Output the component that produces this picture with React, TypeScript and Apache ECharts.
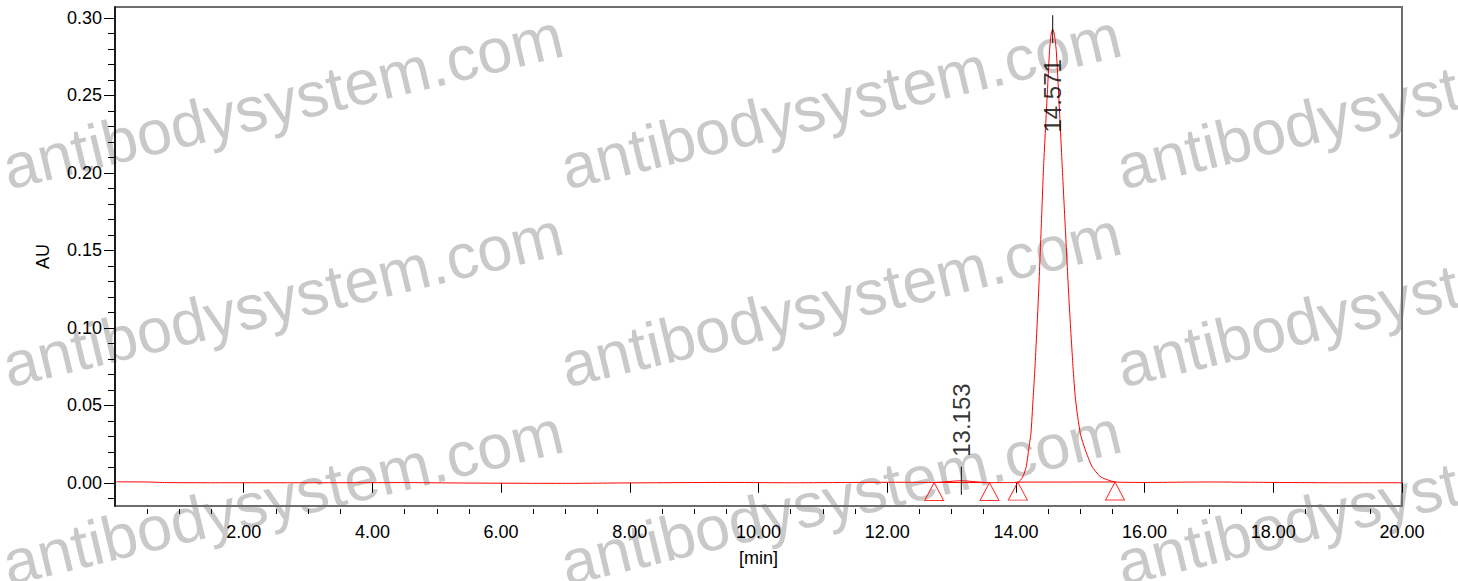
import React, { useEffect, useRef } from 'react';
import * as echarts from 'echarts';

const FONT = '"Liberation Sans", Arial, Helvetica, sans-serif';

// detector trace (time in min, absorbance in AU)
const traceTime = [
  0.02, 0.5, 0.8, 1.5, 3.0, 4.5, 5.5, 7.0, 8.0, 9.5,
  10.5, 11.5, 12.3, 12.73, 12.9, 13.05, 13.153, 13.3, 13.45, 13.6,
  13.9, 14.03, 14.079, 14.12, 14.161, 14.198, 14.234, 14.266, 14.297, 14.348,
  14.39, 14.43, 14.483, 14.523, 14.548, 14.571, 14.597, 14.627, 14.669, 14.72,
  14.772, 14.825, 14.887, 14.927, 15.0, 15.078, 15.182, 15.31, 15.415, 15.54,
  16.0, 17.0, 18.0, 19.0, 20.0,
];
const traceAU = [
  0.0006, 0.0005, 0.0001, 0.0, 0.0, 0.0001, -0.0002, -0.0004, -0.0001, 0.0002,
  0.0, 0.0002, 0.0003, 0.0002, 0.0006, 0.0011, 0.0013, 0.0009, 0.0004, 0.0001,
  0.0001, 0.0004, 0.002, 0.005, 0.0105, 0.0213, 0.032, 0.0535, 0.075, 0.118,
  0.161, 0.204, 0.247, 0.279, 0.2895, 0.2927, 0.2895, 0.279, 0.247, 0.204,
  0.161, 0.118, 0.075, 0.0535, 0.032, 0.0213, 0.0105, 0.004, 0.002, 0.0005,
  0.0002, 0.0005, 0.0002, 0.0, 0.0,
];

// integration start / end marks
const markTime = [12.73, 13.59, 14.03, 15.54];
const markAU = [0.0002, 0.0001, 0.0004, 0.0005];

// peaks with retention time labels
const peakTime = [13.153, 14.571];
const peakAU = [0.0013, 0.2927];

// axis ticks
const xMajorTicks = [2, 4, 6, 8, 10, 12, 14, 16, 18, 20];
const xMinorTicks: number[] = [];
for (let i = 1; i <= 40; i++) if (i % 4 !== 0) xMinorTicks.push(i * 0.5);
const yMajorTicks = [0, 0.05, 0.1, 0.15, 0.2, 0.25, 0.3];
const yMinorTicks: number[] = [];
for (let i = -1; i <= 30; i++) if (i % 5 !== 0) yMinorTicks.push(i / 100);

const WATERMARK = 'antibodysystem.com';
const wmCols = [11, 569, 1125];
const wmRows = [199, 397, 595];

const App: React.FC = () => {
  const chartRef = useRef<HTMLDivElement>(null);

  useEffect(() => {
    if (!chartRef.current) return;
    const chart = echarts.init(chartRef.current, undefined, { renderer: 'svg' });

    const black = '#000';
    const red = '#ff0000';
    const labelStyle = { color: black, fontSize: 18, fontFamily: FONT };

    const option: any = {
      animation: false,
      backgroundColor: '#fff',
      grid: {
        left: 115,
        right: 56,
        top: 7,
        bottom: 75,
        show: true,
        borderColor: '#6e6e6e',
        borderWidth: 2,
        outerBoundsMode: 'none',
      },
      graphic: wmRows.flatMap((y) =>
        wmCols.map((x) => ({
          type: 'text',
          x,
          y,
          rotation: 0.236,
          silent: true,
          z: -1,
          style: {
            text: WATERMARK,
            fill: '#c9c9c9',
            fontSize: 63,
            fontFamily: FONT,
            align: 'left',
            verticalAlign: 'bottom',
          },
        }))
      ),
      xAxis: [
        {
          type: 'value',
          min: 0,
          max: 20,
          position: 'bottom',
          axisLine: { show: false },
          axisTick: { show: false },
          axisLabel: { show: false },
          splitLine: { show: false },
        },
        {
          type: 'value',
          min: 0,
          max: 20,
          position: 'bottom',
          offset: 3,
          axisLine: { show: false },
          axisTick: { show: true, length: 10, customValues: xMajorTicks, lineStyle: { color: black, width: 1 } },
          axisLabel: {
            ...labelStyle,
            customValues: xMajorTicks,
            margin: 14,
            formatter: (v: number) => v.toFixed(2),
          },
          splitLine: { show: false },
          name: '[min]',
          nameLocation: 'middle',
          nameGap: 40,
          nameTextStyle: labelStyle,
        },
        {
          type: 'value',
          min: 0,
          max: 20,
          position: 'bottom',
          offset: 3,
          axisLine: { show: false },
          axisTick: { show: true, length: 5, customValues: xMinorTicks, lineStyle: { color: black, width: 1 } },
          axisLabel: { show: false },
          splitLine: { show: false },
        },
      ],
      yAxis: [
        {
          type: 'value',
          min: -0.015,
          max: 0.307,
          position: 'left',
          axisLine: { show: true, lineStyle: { color: black, width: 1.5 } },
          axisTick: { show: true, length: 11, customValues: yMajorTicks, lineStyle: { color: black, width: 1 } },
          axisLabel: {
            ...labelStyle,
            customValues: yMajorTicks,
            margin: 13,
            formatter: (v: number) => v.toFixed(2),
          },
          splitLine: { show: false },
          name: 'AU',
          nameLocation: 'middle',
          nameRotate: 90,
          nameGap: 63,
          nameMoveOverlap: false,
          nameTextStyle: labelStyle,
        },
        {
          type: 'value',
          min: -0.015,
          max: 0.307,
          position: 'left',
          offset: 0,
          axisLine: { show: false },
          axisTick: { show: true, length: 7, customValues: yMinorTicks, lineStyle: { color: black, width: 1 } },
          axisLabel: { show: false },
          splitLine: { show: false },
        },
      ],
      series: [
        {
          name: 'trace',
          type: 'line',
          xAxisIndex: 0,
          yAxisIndex: 0,
          data: traceTime.map((t, i) => [t, traceAU[i]]),
          showSymbol: false,
          symbol: 'none',
          smooth: 0.2,
          lineStyle: { color: red, width: 1 },
          z: 3,
        },
        {
          name: 'baseline1',
          type: 'line',
          xAxisIndex: 0,
          yAxisIndex: 0,
          data: [
            [markTime[0], markAU[0]],
            [markTime[1], markAU[1]],
          ],
          showSymbol: false,
          symbol: 'none',
          lineStyle: { color: red, width: 1 },
          z: 3,
        },
        {
          name: 'baseline2',
          type: 'line',
          xAxisIndex: 0,
          yAxisIndex: 0,
          data: [
            [markTime[2], markAU[2]],
            [markTime[3], markAU[3]],
          ],
          showSymbol: false,
          symbol: 'none',
          lineStyle: { color: red, width: 1 },
          z: 3,
        },
        {
          name: 'marks',
          type: 'scatter',
          xAxisIndex: 0,
          yAxisIndex: 0,
          data: markTime.map((t, i) => [t, markAU[i]]),
          symbol: 'triangle',
          symbolSize: [19, 18],
          symbolOffset: [0, 9],
          itemStyle: { color: 'rgba(255,255,255,0)', borderColor: red, borderWidth: 1 },
          z: 4,
        },
        {
          name: 'peaks',
          type: 'scatter',
          xAxisIndex: 0,
          yAxisIndex: 0,
          symbol: 'rect',
          symbolSize: [1.2, 28],
          itemStyle: { color: black },
          label: {
            show: true,
            rotate: 90,
            color: black,
            fontSize: 24,
            fontFamily: FONT,
            verticalAlign: 'middle',
            formatter: (p: any) => p.value[0].toFixed(3),
          },
          data: [
            { value: [peakTime[0], peakAU[0]], label: { position: 'top', distance: 10, align: 'left' } },
            { value: [peakTime[1], peakAU[1]], label: { position: 'bottom', distance: 16, align: 'right' } },
          ],
          z: 5,
        },
      ],
    };

    chart.setOption(option);

    return () => {
      chart.dispose();
    };
  }, []);

  return (
    <div
      ref={chartRef}
      style={{ position: 'fixed', left: 0, top: 0, width: 1458, height: 581, background: '#fff' }}
    ></div>
  );
};

export default App;
